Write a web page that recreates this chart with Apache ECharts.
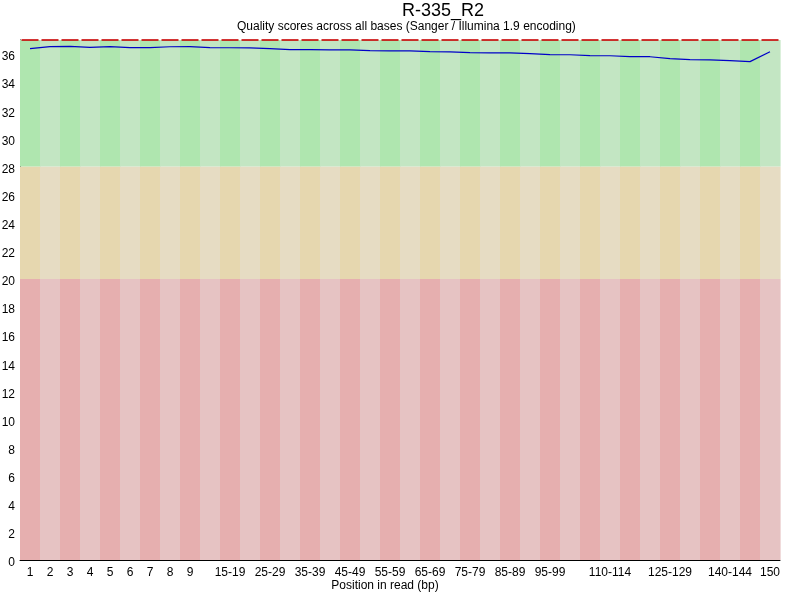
<!DOCTYPE html>
<html>
<head>
<meta charset="utf-8">
<script src="https://cdn.jsdelivr.net/npm/echarts@6/dist/echarts.min.js"></script>
<style>
html, body { margin: 0; padding: 0; background: #fff; }
#main { width: 800px; height: 600px; }
</style>
</head>
<body>
<div id="main"></div>
<script>
// positions in read (bp)
var positions = ['1', '2', '3', '4', '5', '6', '7', '8', '9',
	'10-14', '15-19', '20-24', '25-29', '30-34', '35-39', '40-44', '45-49',
	'50-54', '55-59', '60-64', '65-69', '70-74', '75-79', '80-84', '85-89',
	'90-94', '95-99', '100-104', '105-109', '110-114', '115-119', '120-124',
	'125-129', '130-134', '135-139', '140-144', '145-149', '150'];
// labels that are printed under the axis
var shownLabels = ['1', '2', '3', '4', '5', '6', '7', '8', '9', '15-19', '25-29', '35-39',
	'45-49', '55-59', '65-69', '75-79', '85-89', '95-99', '110-114', '125-129', '140-144', '150'];
// mean quality per position
var meanQuality = [36.39, 36.53, 36.54, 36.47, 36.53, 36.46, 36.46, 36.52, 36.53,
	36.46, 36.45, 36.44, 36.38, 36.32, 36.31, 36.30, 36.30, 36.24, 36.23, 36.22,
	36.17, 36.16, 36.10, 36.09, 36.08, 36.03, 35.96, 35.95, 35.89, 35.88, 35.82,
	35.81, 35.67, 35.60, 35.59, 35.53, 35.46, 36.17];
// median quality per position
var medianQuality = [37, 37, 37, 37, 37, 37, 37, 37, 37, 37, 37, 37, 37, 37, 37, 37, 37, 37, 37,
	37, 37, 37, 37, 37, 37, 37, 37, 37, 37, 37, 37, 37, 37, 37, 37, 37, 37, 37];
// quality zones: bad 0-20, ok 20-28, good 28-37
var zoneBounds = [0, 20, 28, 37];
var yTicks = [0, 37, 2]; // min, max, interval

var zoneColors = [
	['#e6afaf', '#e6c3c3'],
	['#e6d7af', '#e6dcc3'],
	['#afe6af', '#c3e6c3']
];

var myChart = echarts.init(document.getElementById('main'));

// background cells: [position index, low, high, zone]
var zoneCells = [];
positions.forEach(function(p, i) {
	for (var z = 0; z < 3; z++) {
		zoneCells.push([i, zoneBounds[z], zoneBounds[z + 1], z]);
	}
});

var series = [{
	type: 'custom',
	silent: true,
	z: 1,
	renderItem: function(params, api) {
		var i = api.value(0);
		var lo = api.coord([i, api.value(1)]);
		var hi = api.coord([i, api.value(2)]);
		var w = api.size([1, 0])[0];
		return {
			type: 'rect',
			shape: { x: lo[0] - w / 2, y: hi[1], width: w + 0.6, height: lo[1] - hi[1] },
			style: { fill: zoneColors[api.value(3)][i % 2] }
		};
	},
	encode: { x: 0, y: [1, 2] },
	data: zoneCells
}, {
	// median, one short red stroke per position
	type: 'scatter',
	symbol: 'rect',
	symbolSize: [17, 2],
	itemStyle: { color: '#c80000' },
	z: 5,
	data: medianQuality
}, {
	// mean line
	type: 'line',
	symbol: 'none',
	lineStyle: { color: '#0000c8', width: 1.2 },
	z: 6,
	data: meanQuality
}];

var option = {
	animation: false,
	backgroundColor: '#fff',
	textStyle: { fontFamily: 'Liberation Sans' },
	title: [{
		text: 'R-335_R2',
		left: 397,
		top: -3,
		textStyle: { fontSize: 18, fontWeight: 'normal', color: '#000', fontFamily: 'Liberation Sans' }
	}, {
		text: 'Quality scores across all bases (Sanger / Illumina 1.9 encoding)',
		left: 232,
		top: 16,
		textStyle: { fontSize: 12, fontWeight: 'normal', color: '#000', fontFamily: 'Liberation Sans' }
	}],
	grid: {
		left: 20,
		right: 20,
		top: 40,
		bottom: 40,
		containLabel: false,
		outerBoundsMode: 'none'
	},
	xAxis: {
		type: 'category',
		data: positions,
		name: 'Position in read (bp)',
		nameLocation: 'middle',
		nameGap: 20,
		nameMoveOverlap: false,
		nameTextStyle: { color: '#000', fontSize: 12, padding: [0, 30, 0, 0] },
		axisLine: { lineStyle: { color: '#000', width: 1 } },
		axisTick: { show: false },
		axisLabel: {
			color: '#000',
			fontSize: 12,
			margin: 7,
			interval: function(idx, val) {
				return shownLabels.indexOf(val) >= 0;
			}
		},
		splitLine: { show: false }
	},
	yAxis: {
		type: 'value',
		min: yTicks[0],
		max: yTicks[1],
		interval: yTicks[2],
		axisLine: { show: true, lineStyle: { color: '#000', width: 1 } },
		axisTick: { show: false },
		axisLabel: { color: '#000', fontSize: 12, margin: 5, verticalAlign: 'top', lineHeight: 6, showMaxLabel: false },
		splitLine: { show: false }
	},
	series: series
};

myChart.setOption(option);
</script>
</body>
</html>
